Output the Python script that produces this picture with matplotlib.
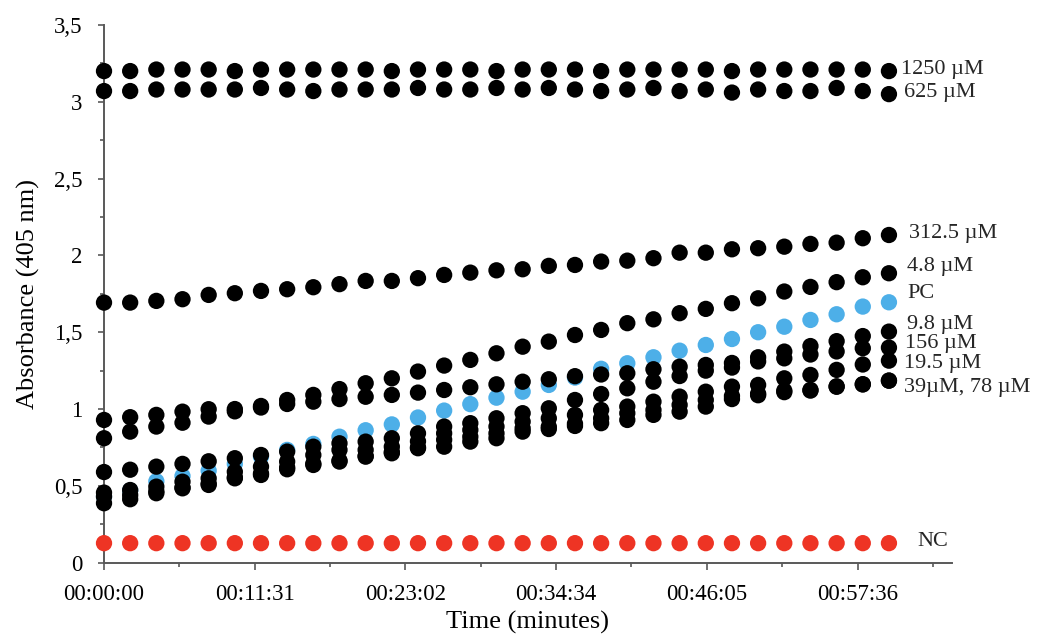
import matplotlib
matplotlib.use("Agg")
import matplotlib.pyplot as plt
from matplotlib.ticker import MultipleLocator, FuncFormatter

plt.rcParams["font.family"] = ["Liberation Serif", "DejaVu Serif"]

# Reading times: one plate read every 2 minutes (seconds)
n_reads = 31
time_s = [120 * i for i in range(n_reads)]

# Absorbance at 405 nm for each well
abs_1250 = [3.20, 3.20, 3.21, 3.21, 3.21, 3.20, 3.21, 3.21, 3.21, 3.21, 3.21,
            3.20, 3.21, 3.21, 3.21, 3.20, 3.21, 3.21, 3.21, 3.20, 3.21, 3.21,
            3.21, 3.21, 3.20, 3.21, 3.21, 3.21, 3.21, 3.21, 3.20]
abs_625 = [3.07, 3.07, 3.08, 3.08, 3.08, 3.08, 3.09, 3.08, 3.07, 3.08, 3.08,
           3.08, 3.09, 3.08, 3.08, 3.09, 3.08, 3.09, 3.08, 3.07, 3.08, 3.09,
           3.07, 3.08, 3.06, 3.08, 3.07, 3.07, 3.09, 3.07, 3.05]
abs_312_5 = [1.693, 1.693, 1.704, 1.715, 1.743, 1.754, 1.769, 1.780, 1.793,
             1.813, 1.834, 1.834, 1.852, 1.873, 1.888, 1.903, 1.910, 1.932,
             1.938, 1.960, 1.966, 1.982, 2.018, 2.018, 2.040, 2.047, 2.057,
             2.075, 2.083, 2.112, 2.133]
abs_4_8 = [0.929, 0.947, 0.962, 0.983, 0.999, 1.000, 1.020, 1.059, 1.092,
           1.130, 1.168, 1.200, 1.244, 1.283, 1.320, 1.363, 1.406, 1.439,
           1.482, 1.515, 1.559, 1.584, 1.624, 1.652, 1.689, 1.721, 1.765,
           1.795, 1.826, 1.858, 1.884]
abs_pc = [0.430, 0.470, 0.530, 0.564, 0.599, 0.643, 0.690, 0.734, 0.773,
          0.820, 0.862, 0.900, 0.945, 0.990, 1.032, 1.074, 1.113, 1.157,
          1.205, 1.262, 1.298, 1.337, 1.380, 1.417, 1.456, 1.500, 1.536,
          1.580, 1.617, 1.667, 1.695]
abs_9_8 = [0.810, 0.853, 0.886, 0.911, 0.951, 0.985, 1.010, 1.033, 1.048,
           1.065, 1.080, 1.092, 1.107, 1.124, 1.142, 1.161, 1.178, 1.194,
           1.214, 1.225, 1.233, 1.259, 1.276, 1.287, 1.300, 1.337, 1.374,
           1.410, 1.442, 1.475, 1.504]
abs_156 = [0.590, 0.605, 0.625, 0.643, 0.660, 0.680, 0.701, 0.723, 0.755,
           0.777, 0.788, 0.810, 0.842, 0.886, 0.908, 0.940, 0.973, 1.005,
           1.059, 1.098, 1.135, 1.178, 1.215, 1.250, 1.270, 1.310, 1.330,
           1.355, 1.375, 1.396, 1.400]
abs_19_5 = [0.456, 0.473, 0.495, 0.527, 0.549, 0.592, 0.625, 0.658, 0.701,
            0.734, 0.734, 0.755, 0.790, 0.842, 0.864, 0.886, 0.918, 0.940,
            0.962, 0.994, 1.016, 1.048, 1.081, 1.113, 1.146, 1.157, 1.200,
            1.222, 1.255, 1.290, 1.315]
abs_39 = [0.430, 0.440, 0.465, 0.490, 0.515, 0.555, 0.580, 0.620, 0.645,
          0.665, 0.695, 0.720, 0.750, 0.800, 0.820, 0.842, 0.875, 0.885,
          0.905, 0.940, 0.973, 0.994, 1.027, 1.059, 1.085, 1.100, 1.120,
          1.125, 1.148, 1.162, 1.185]
abs_78 = [0.387, 0.413, 0.452, 0.484, 0.506, 0.549, 0.571, 0.608, 0.636,
          0.658, 0.690, 0.712, 0.745, 0.755, 0.788, 0.810, 0.853, 0.870,
          0.890, 0.908, 0.929, 0.962, 0.983, 1.016, 1.065, 1.090, 1.110,
          1.120, 1.145, 1.160, 1.185]
abs_nc = [0.127] * n_reads

BLACK = "#000000"
BLUE = "#4DAFE8"
RED = "#EE3424"

# (values, colour) in drawing order
series = [
    (abs_nc, RED),
    (abs_pc, BLUE),
    (abs_1250, BLACK),
    (abs_625, BLACK),
    (abs_312_5, BLACK),
    (abs_4_8, BLACK),
    (abs_9_8, BLACK),
    (abs_156, BLACK),
    (abs_19_5, BLACK),
    (abs_39, BLACK),
    (abs_78, BLACK),
]

# End-of-series labels: (text, x in seconds, y in absorbance)
end_labels = [
    ("1250 µM", 3656, 3.212),
    ("625 µM", 3671, 3.060),
    ("312.5 µM", 3693, 2.140),
    ("4.8 µM", 3682, 1.927),
    ("PC", 3685, 1.754),
    ("9.8 µM", 3685, 1.548),
    ("156 µM", 3674, 1.428),
    ("19.5 µM", 3667, 1.294),
    ("39µM, 78 µM", 3667, 1.142),
    ("NC", 3732, 0.137),
]

fig = plt.figure(figsize=(10.38, 6.36), dpi=100)
ax = fig.add_axes([0.1002, 0.1153, 0.8167, 0.8454])

for values, colour in series:
    ax.scatter(time_s, values, s=138, color=colour, edgecolors="none",
               zorder=3, clip_on=False)

for text, x, y in end_labels:
    ax.text(x, y, text, fontsize=16, color="#262626", ha="left",
            va="center", clip_on=False)

ax.set_xlim(0, 3888)
ax.set_ylim(0, 3.5)

# Time axis: major every 0.008 day, minor every 0.004 day
ax.xaxis.set_major_locator(MultipleLocator(691.2))
ax.xaxis.set_minor_locator(MultipleLocator(345.6))


def hms(sec, pos=None):
    s = int(round(sec))
    return f"{s // 3600:02d}:{(s % 3600) // 60:02d}:{s % 60:02d}"


ax.xaxis.set_major_formatter(FuncFormatter(hms))

ax.yaxis.set_major_locator(MultipleLocator(0.5))
ax.yaxis.set_minor_locator(MultipleLocator(0.25))
ax.yaxis.set_major_formatter(
    FuncFormatter(lambda v, pos: f"{v:g}".replace(".", ",")))

spine_col = "#595959"
for side in ("top", "right"):
    ax.spines[side].set_visible(False)
for side in ("left", "bottom"):
    ax.spines[side].set_color(spine_col)
    ax.spines[side].set_linewidth(1.4)

ax.tick_params(axis="x", which="major", direction="out", length=5,
               width=1.2, color=spine_col, labelsize=16.5, pad=10)
ax.tick_params(axis="x", which="minor", direction="out", length=3,
               width=1.2, color=spine_col)
ax.tick_params(axis="y", which="major", direction="out", length=4.5,
               width=1.2, color=spine_col, labelsize=16.5, pad=11)
ax.tick_params(axis="y", which="minor", direction="out", length=3,
               width=1.2, color=spine_col)

ax.set_xlabel("Time (minutes)", fontsize=19)
ax.xaxis.set_label_coords(0.5, -0.09)
ax.set_ylabel("Absorbance (405 nm)", fontsize=19)
ax.yaxis.set_label_coords(-0.075, 0.5)

fig.savefig("out.png", dpi=100)
